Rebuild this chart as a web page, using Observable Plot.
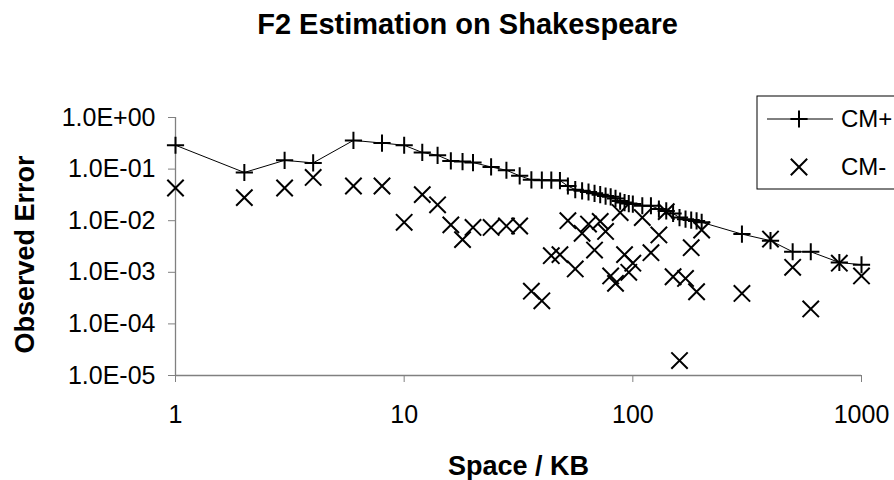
<!DOCTYPE html>
<html>
<head>
<meta charset="utf-8">
<script src="https://cdn.jsdelivr.net/npm/d3@7"></script>
<script src="https://cdn.jsdelivr.net/npm/@observablehq/plot@0.6"></script>
<style>
  html, body { margin: 0; padding: 0; background: #fff; }
  #chart svg { display: block; }
</style>
</head>
<body>
<div id="chart"></div>
<script>
// ---- data ----
const title = "F2 Estimation on Shakespeare";
const xLabel = "Space / KB";
const yLabel = "Observed Error";
const seriesNames = ["CM+", "CM-"];

const space = [1, 2, 3, 4, 6, 8, 10, 12, 14, 16, 18, 20, 24, 28, 32, 36, 40, 44, 48, 52, 56,
  60, 64, 68, 72, 76, 80, 84, 88, 92, 96, 100, 110, 120, 130, 140, 150, 160, 170, 180, 190, 200,
  300, 400, 500, 600, 800, 1000];

const cmPlus = [0.29, 0.086, 0.148, 0.132, 0.36, 0.32, 0.29, 0.21, 0.185, 0.144, 0.14, 0.134, 0.11, 0.095, 0.074, 0.062, 0.061, 0.061, 0.060, 0.047, 0.040,
  0.038, 0.036, 0.034, 0.032, 0.030, 0.029, 0.027, 0.024, 0.0225, 0.0215, 0.021, 0.0195, 0.0195, 0.0168, 0.0155, 0.0138, 0.0115, 0.0107, 0.0103, 0.0099, 0.0093,
  0.0055, 0.0041, 0.0025, 0.0025, 0.00155, 0.0014];

const cmMinus = [0.043, 0.028, 0.043, 0.069, 0.047, 0.047, 0.0093, 0.032, 0.0203, 0.0083, 0.0043, 0.0074, 0.0074, 0.0079, 0.0079, 0.00043, 0.00028, 0.0021, 0.0022, 0.0100, 0.00116,
  0.0057, 0.0086, 0.0027, 0.0097, 0.0062, 0.00085, 0.00061, 0.0144, 0.0022, 0.0010, 0.00150, 0.0115, 0.0024, 0.0053, 0.0150, 0.00082, 0.0000195, 0.00076, 0.0030, 0.00042, 0.0066,
  0.00039, 0.0044, 0.00125, 0.000195, 0.0015, 0.00085];

const xTicks = [1, 10, 100, 1000];
const yTicks = [1, 0.1, 0.01, 0.001, 0.0001, 0.00001];

const rows = space.map((s, i) => ({space: s, plus: cmPlus[i], minus: cmMinus[i]}));

const fmtY = d => {
  const e = Math.round(Math.log10(d));
  return "1.0E" + (e < 0 ? "-" : "+") + String(Math.abs(e)).padStart(2, "0");
};

const FONT = "'Liberation Sans', Arial, sans-serif";
const AXIS = "#808080";
const PLUS_R = 5.6, TIMES_R = 7.5;

const chart = Plot.plot({
  width: 894,
  height: 480,
  marginLeft: 175,
  marginRight: 33,
  marginTop: 117,
  marginBottom: 105,
  style: {fontFamily: FONT, fontSize: "25px", color: "black", background: "white"},
  x: {type: "log", domain: [1, 1000]},
  y: {type: "log", domain: [1e-5, 1]},
  marks: [
    Plot.ruleY([1e-5], {stroke: AXIS, strokeWidth: 1.3}),
    Plot.ruleX([1], {stroke: AXIS, strokeWidth: 1.3}),
    Plot.axisX({ticks: xTicks, tickFormat: d => String(d), tickSize: 7, tickPadding: 23,
      label: null, stroke: AXIS, fill: "black", fontSize: 25}),
    Plot.axisY({ticks: yTicks, tickFormat: fmtY, tickSize: 7, tickPadding: 13,
      label: null, stroke: AXIS, fill: "black", fontSize: 25}),
    Plot.line(rows, {x: "space", y: "plus", stroke: "black", strokeWidth: 1}),
    Plot.dot(rows, {x: "space", y: "plus", symbol: "plus", r: PLUS_R, stroke: "black", strokeWidth: 2}),
    Plot.dot(rows, {x: "space", y: "minus", symbol: "times", r: TIMES_R, stroke: "black", strokeWidth: 2}),
    Plot.text([title], {frameAnchor: "top", dx: -51, dy: -104, lineAnchor: "top", textAnchor: "middle",
      fontSize: 29, fontWeight: "bold", fill: "black"}),
    Plot.text([xLabel], {frameAnchor: "bottom", dy: 80, lineAnchor: "top", textAnchor: "middle",
      fontSize: 27, fontWeight: "bold", fill: "black"}),
    Plot.text([yLabel], {frameAnchor: "left", dx: -142, dy: 8, rotate: -90, lineAnchor: "bottom",
      textAnchor: "middle", fontSize: 27, fontWeight: "bold", fill: "black"})
  ]
});

document.getElementById("chart").appendChild(chart);

// ---- legend ----
const svg = d3.select(chart);
const lg = svg.append("g").attr("font-family", FONT).attr("font-size", 24);
lg.append("rect").attr("x", 757).attr("y", 96).attr("width", 160).attr("height", 93)
  .attr("fill", "white").attr("stroke", "black").attr("stroke-width", 1);
const rowsY = [119, 167];
lg.append("line").attr("x1", 767).attr("x2", 833).attr("y1", rowsY[0]).attr("y2", rowsY[0])
  .attr("stroke", "black").attr("stroke-width", 1);
lg.append("path").attr("transform", `translate(799,${rowsY[0]})`)
  .attr("d", d3.symbol(d3.symbolPlus, PLUS_R * PLUS_R * Math.PI)())
  .attr("fill", "none").attr("stroke", "black").attr("stroke-width", 2);
lg.append("path").attr("transform", `translate(799,${rowsY[1]})`)
  .attr("d", d3.symbol(d3.symbolTimes, TIMES_R * TIMES_R * Math.PI)())
  .attr("fill", "none").attr("stroke", "black").attr("stroke-width", 2);
seriesNames.forEach((n, i) => {
  lg.append("text").attr("x", 841).attr("y", rowsY[i]).attr("dy", "0.35em")
    .attr("text-anchor", "start").attr("fill", "black").text(n);
});
</script>
</body>
</html>
